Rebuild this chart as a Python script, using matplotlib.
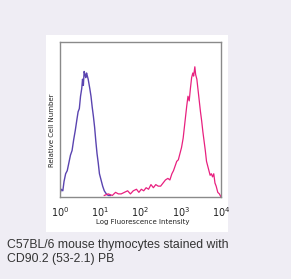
import matplotlib
matplotlib.use("Agg")
import matplotlib.pyplot as plt
from matplotlib.patches import Rectangle

# log10 fluorescence positions (decades) and relative heights
purple_x = [0.00, 0.03, 0.07, 0.10, 0.14, 0.18, 0.22, 0.26, 0.30, 0.34, 0.38, 0.42, 0.45, 0.48,
            0.51, 0.54, 0.56, 0.58, 0.60, 0.62, 0.64, 0.66, 0.68, 0.70, 0.72, 0.74, 0.77, 0.80,
            0.83, 0.86, 0.89, 0.92, 0.95, 0.98, 1.02, 1.06, 1.10, 1.15, 1.20, 1.25]
purple_y = [0.02, 0.05, 0.04, 0.10, 0.15, 0.17, 0.22, 0.27, 0.30, 0.37, 0.43, 0.50, 0.55, 0.57,
            0.65, 0.70, 0.76, 0.72, 0.81, 0.79, 0.77, 0.80, 0.78, 0.76, 0.73, 0.70, 0.65, 0.58,
            0.52, 0.45, 0.36, 0.28, 0.22, 0.15, 0.11, 0.07, 0.04, 0.02, 0.01, 0.01]

pink_x = [1.10, 1.20, 1.30, 1.38, 1.45, 1.52, 1.60, 1.68, 1.75, 1.82, 1.90, 1.96, 2.02, 2.08,
          2.14, 2.20, 2.26, 2.32, 2.38, 2.44, 2.50, 2.56, 2.62, 2.68, 2.73, 2.78, 2.82, 2.86,
          2.90, 2.94, 2.98, 3.02, 3.06, 3.09, 3.12, 3.15, 3.18, 3.21, 3.24, 3.27, 3.30, 3.32,
          3.35, 3.37, 3.40, 3.43, 3.46, 3.49, 3.52, 3.55, 3.58, 3.61, 3.64, 3.67, 3.70, 3.73,
          3.76, 3.79, 3.82, 3.85, 3.88, 3.92, 3.96, 4.00]
pink_y = [0.01, 0.02, 0.01, 0.03, 0.02, 0.02, 0.03, 0.04, 0.02, 0.04, 0.05, 0.03, 0.05, 0.04,
          0.06, 0.05, 0.08, 0.06, 0.08, 0.07, 0.07, 0.09, 0.11, 0.12, 0.11, 0.15, 0.17, 0.20,
          0.23, 0.24, 0.28, 0.32, 0.38, 0.45, 0.52, 0.59, 0.65, 0.62, 0.70, 0.77, 0.80, 0.78,
          0.84, 0.79, 0.76, 0.69, 0.62, 0.55, 0.49, 0.42, 0.36, 0.30, 0.23, 0.20, 0.17, 0.14,
          0.15, 0.13, 0.15, 0.09, 0.07, 0.03, 0.02, 0.00]

tick_vals = [1, 10, 100, 1000, 10000]
tick_labels = [r"$10^{0}$", r"$10^{1}$", r"$10^{2}$", r"$10^{3}$", r"$10^{4}$"]

W, H = 291, 279
fig = plt.figure(figsize=(W / 100, H / 100), dpi=100, facecolor="#efedf4")

# white panel
fig.patches.append(Rectangle((46 / W, 1 - 232 / H), (228 - 46) / W, (232 - 35) / H,
                             transform=fig.transFigure, facecolor="white", edgecolor="none", zorder=-5))

ax = fig.add_axes([60 / W, 1 - 197 / H, (221 - 60) / W, (197 - 42) / H])
ax.set_zorder(2)
ax.set_facecolor("white")
ax.plot([10 ** v for v in purple_x], purple_y, color="#5a44b0", lw=1.0)
ax.plot([10 ** v for v in pink_x], pink_y, color="#e8207f", lw=0.9)
ax.set_xscale("log")
ax.set_xlim(1, 10000)
ax.set_ylim(0, 1.0)
ax.set_xticks(tick_vals)
ax.set_xticklabels(tick_labels, fontsize=7, color="#222222")
ax.minorticks_off()
ax.tick_params(axis="x", length=0, pad=6)
ax.set_yticks([])
for s in ax.spines.values():
    s.set_color("#8a8a8a")
    s.set_linewidth(1.0)
ax.set_xlabel("Log Fluorescence Intensity", fontsize=5, color="#222222")
ax.xaxis.set_label_coords((143 - 60) / 161, -(222 - 197) / 155)
ax.xaxis.label.set_va("center")
ax.set_ylabel("Relative Cell Number", fontsize=5, color="#222222")
ax.yaxis.set_label_coords((52 - 60) / 161, (197 - 130) / 155)
ax.yaxis.label.set_va("center")

fig.text(7 / W, 1 - 245 / H, "C57BL/6 mouse thymocytes stained with", fontsize=8.8,
         family="Liberation Sans", color="#333333", va="center", ha="left")
fig.text(7 / W, 1 - 259 / H, "CD90.2 (53-2.1) PB", fontsize=8.8,
         family="Liberation Sans", color="#333333", va="center", ha="left")

fig.savefig("out.png", dpi=100, facecolor=fig.get_facecolor())
